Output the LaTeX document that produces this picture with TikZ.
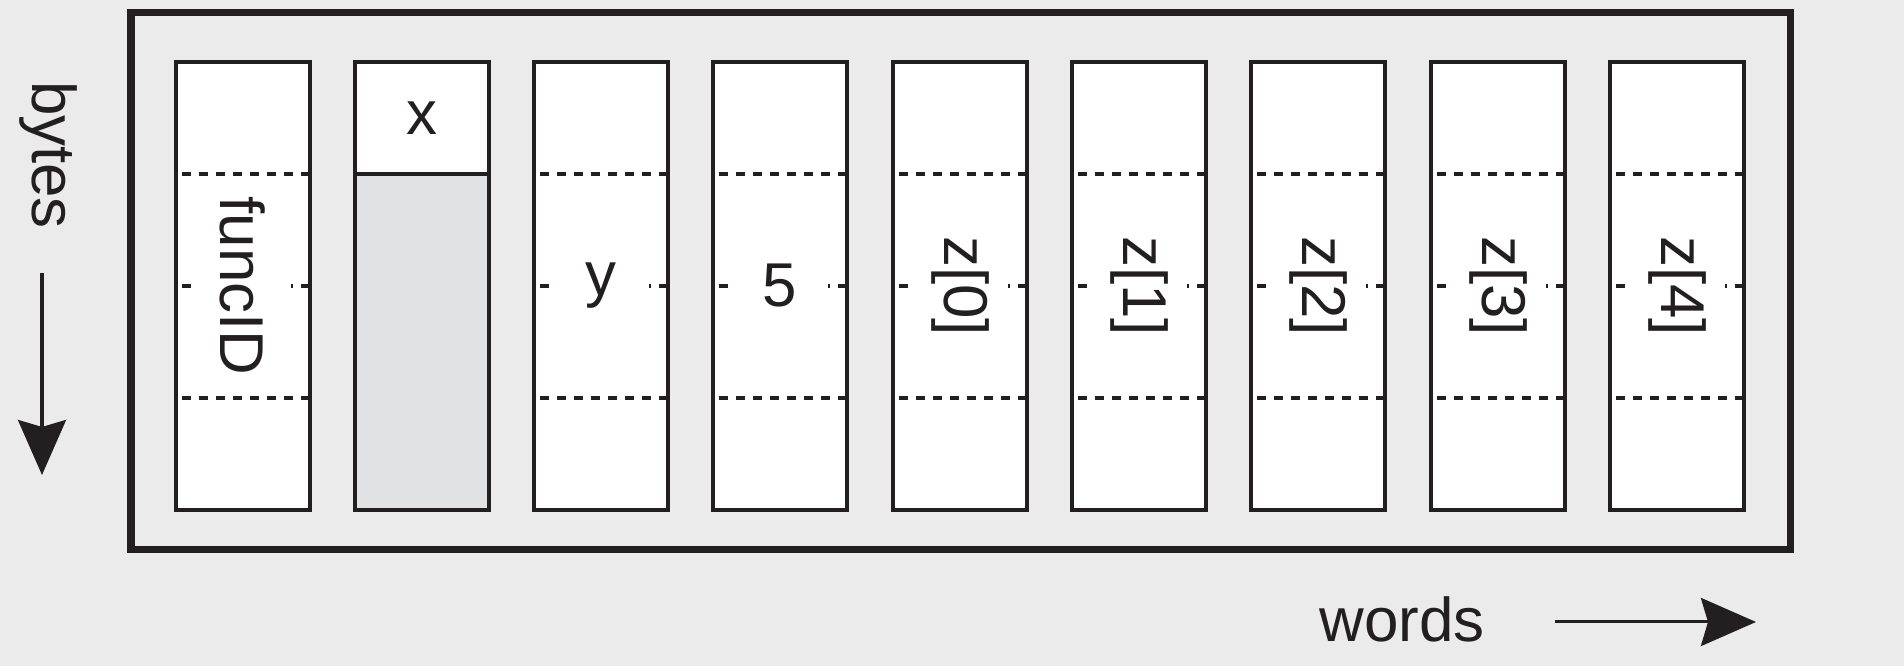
\documentclass[tikz,border=0pt]{standalone}
\usepackage{fontspec}
\setmainfont{Liberation Sans}
\usetikzlibrary{arrows.meta}
\definecolor{ink}{HTML}{231F20}
\definecolor{paper}{HTML}{EBEBEB}
\definecolor{shade}{HTML}{E1E2E4}
\def\ll{0.01}

\begin{document}
\begin{tikzpicture}[word box/.style={draw=ink,line width=0.04cm,fill=white},
  byte line/.style={draw=ink,line width=0.035cm,dash pattern=on 0.085cm off 0.085cm},
  cell text/.style={fill=white,text=ink,inner sep=0.1cm,minimum width=0.95cm,minimum height=0.95cm,font=\fontsize{17.6}{21}\selectfont},
  side text/.style={text=ink,inner sep=0pt,font=\fontsize{17.6}{21}\selectfont},
  way arrow/.style={draw=ink,line width=0.03cm,-{Stealth[length=0.55cm,width=0.48cm,inset=0.07cm]}}]
\fill[paper] (0,0) rectangle (1904*\ll,666*\ll);
\draw[ink,line width=0.07cm] (131*\ll,116*\ll) rectangle (1790*\ll,653*\ll);
% the words
\draw[word box] ( 176*\ll,156*\ll) rectangle ( 310*\ll,604*\ll);
\draw[word box,fill=shade] ( 355*\ll,156*\ll) rectangle ( 489*\ll,604*\ll);
\draw[word box] ( 355*\ll,492*\ll) rectangle ( 489*\ll,604*\ll);
\draw[word box] ( 534*\ll,156*\ll) rectangle ( 668*\ll,604*\ll);
\draw[word box] ( 713*\ll,156*\ll) rectangle ( 847*\ll,604*\ll);
\draw[word box] ( 893*\ll,156*\ll) rectangle (1027*\ll,604*\ll);
\draw[word box] (1072*\ll,156*\ll) rectangle (1206*\ll,604*\ll);
\draw[word box] (1251*\ll,156*\ll) rectangle (1385*\ll,604*\ll);
\draw[word box] (1431*\ll,156*\ll) rectangle (1565*\ll,604*\ll);
\draw[word box] (1610*\ll,156*\ll) rectangle (1744*\ll,604*\ll);
% the bytes
\draw[byte line] ( 182*\ll,492*\ll) -- ( 310*\ll,492*\ll) ( 182*\ll,380*\ll) -- ( 310*\ll,380*\ll) ( 182*\ll,268*\ll) -- ( 310*\ll,268*\ll);
\draw[byte line] ( 540*\ll,492*\ll) -- ( 668*\ll,492*\ll) ( 540*\ll,380*\ll) -- ( 668*\ll,380*\ll) ( 540*\ll,268*\ll) -- ( 668*\ll,268*\ll);
\draw[byte line] ( 719*\ll,492*\ll) -- ( 847*\ll,492*\ll) ( 719*\ll,380*\ll) -- ( 847*\ll,380*\ll) ( 719*\ll,268*\ll) -- ( 847*\ll,268*\ll);
\draw[byte line] ( 899*\ll,492*\ll) -- (1027*\ll,492*\ll) ( 899*\ll,380*\ll) -- (1027*\ll,380*\ll) ( 899*\ll,268*\ll) -- (1027*\ll,268*\ll);
\draw[byte line] (1078*\ll,492*\ll) -- (1206*\ll,492*\ll) (1078*\ll,380*\ll) -- (1206*\ll,380*\ll) (1078*\ll,268*\ll) -- (1206*\ll,268*\ll);
\draw[byte line] (1257*\ll,492*\ll) -- (1385*\ll,492*\ll) (1257*\ll,380*\ll) -- (1385*\ll,380*\ll) (1257*\ll,268*\ll) -- (1385*\ll,268*\ll);
\draw[byte line] (1437*\ll,492*\ll) -- (1565*\ll,492*\ll) (1437*\ll,380*\ll) -- (1565*\ll,380*\ll) (1437*\ll,268*\ll) -- (1565*\ll,268*\ll);
\draw[byte line] (1616*\ll,492*\ll) -- (1744*\ll,492*\ll) (1616*\ll,380*\ll) -- (1744*\ll,380*\ll) (1616*\ll,268*\ll) -- (1744*\ll,268*\ll);
% labels
\node[cell text,rotate=-90] (funcid) at ( 243*\ll,380*\ll) {funcID};
\node[cell text] (x) at ( 422*\ll,548*\ll) {x};
\node[cell text] (y) at ( 601*\ll,380*\ll) {y};
\node[cell text] (five) at ( 780*\ll,380*\ll) {5};
\node[cell text,rotate=-90] (z0) at ( 960*\ll,380*\ll) {z[0]};
\node[cell text,rotate=-90] (z1) at (1139*\ll,380*\ll) {z[1]};
\node[cell text,rotate=-90] (z2) at (1318*\ll,380*\ll) {z[2]};
\node[cell text,rotate=-90] (z3) at (1498*\ll,380*\ll) {z[3]};
\node[cell text,rotate=-90] (z4) at (1677*\ll,380*\ll) {z[4]};
% directions
\node[side text,rotate=-90] (bytes) at (49*\ll,511*\ll) {bytes};
\coordinate (bytes from) at (42*\ll,393*\ll);
\coordinate (bytes to) at (42*\ll,191*\ll);
\draw[way arrow] (bytes from) -- (bytes to);
\node[side text] (words) at (1402*\ll,47*\ll) {words};
\coordinate (words from) at (1555*\ll,44*\ll);
\coordinate (words to) at (1756*\ll,44*\ll);
\draw[way arrow] (words from) -- (words to);
\end{tikzpicture}
\end{document}
